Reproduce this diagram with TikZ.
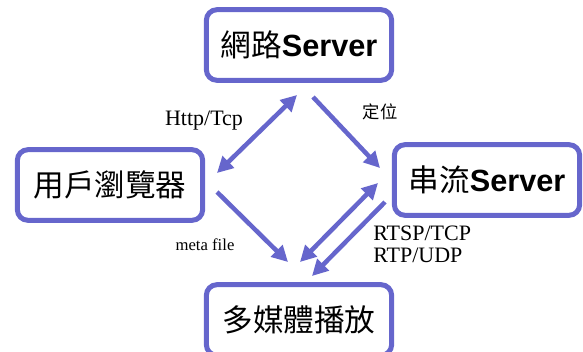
\documentclass[tikz,border=0pt]{standalone}
\usepackage{fontspec}
\setmainfont{Liberation Serif}
\newfontfamily\cjk{Noto Sans CJK TC}
\newfontfamily\heavy{Liberation Sans}
\usetikzlibrary{arrows.meta}

\begin{document}
\begin{tikzpicture}[x=0.75pt,y=-0.75pt]
		\definecolor{boxblue}{RGB}{102,102,204}
		\tikzstyle{box}  = [rectangle,draw=boxblue,line width=3.75pt,rounded corners=8pt,minimum width=139pt,minimum height=53pt,font=\fontsize{23}{23}\selectfont]
		\tikzstyle{link} = [draw=boxblue,line width=3.4pt,-{Triangle[length=12pt,width=12pt]}]
		\tikzstyle{both} = [link,{Triangle[length=12pt,width=12pt]}-{Triangle[length=12pt,width=12pt]}]
		\tikzstyle{lbl}  = [inner sep=0pt,font=\fontsize{16.5}{16}\selectfont]
		
		\clip (0,0) rectangle (583,351);
		\node[box] (web)    at (299,45)  {\cjk 網路\heavy\bfseries Server};
		\node[box] (browser)at (110,185) {\cjk 用戶瀏覽器};
		\node[box] (stream) at (487,180) {\cjk 串流\heavy\bfseries Server};
		\node[box] (player) at (299,320) {\cjk 多媒體播放};
		
		\coordinate (bw1) at (217,173); \coordinate (bw2) at (297,95);
		\coordinate (ws1) at (313,97);  \coordinate (ws2) at (380,168);
		\coordinate (bp1) at (217,192); \coordinate (bp2) at (288,262);
		\coordinate (sp1) at (378,183); \coordinate (sp2) at (300,262);
		\coordinate (sp3) at (385,202); \coordinate (sp4) at (312,276);
		
		\path (bw1) edge[both] (bw2);
		\path (ws1) edge[link] (ws2);
		\path (bp1) edge[link] (bp2);
		\path (sp1) edge[both] (sp2);
		\path (sp3) edge[link] (sp4);
		
		\node[lbl] (http) at (204,121) {Http/Tcp};
		\node[lbl,font=\cjk\fontsize{13}{13}\selectfont] (locate) at (380,112) {定位};
		\node[lbl,font=\fontsize{12.5}{12}\selectfont] (meta) at (205,245) {meta file};
		\node[lbl,align=left,anchor=north west,font=\fontsize{16.5}{16}\selectfont] (proto) at (373,226) {RTSP/TCP\\RTP/UDP};
	\end{tikzpicture}
\end{document}
